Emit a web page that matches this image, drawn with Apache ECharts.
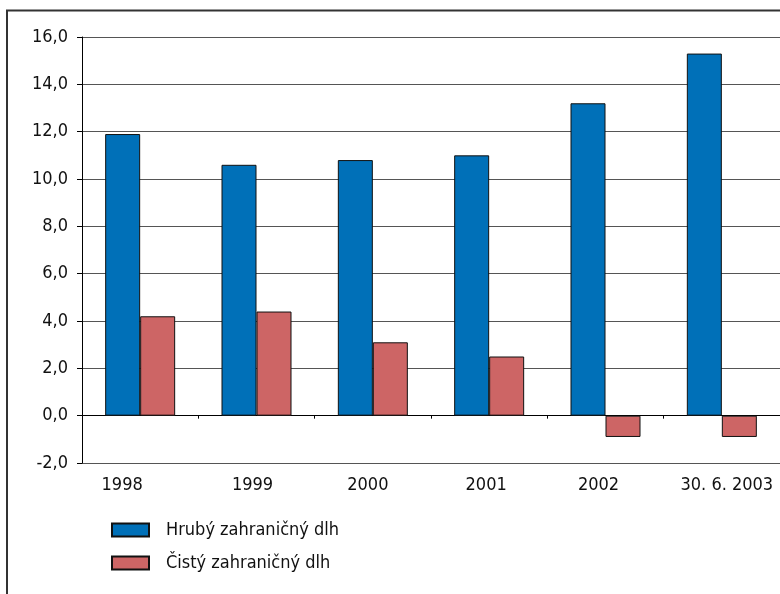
<!DOCTYPE html>
<html>
<head>
<meta charset="utf-8">
<script src="https://cdn.jsdelivr.net/npm/echarts@6/dist/echarts.min.js"></script>
<style>
  html, body { margin: 0; padding: 0; background: #ffffff; }
  #chart { width: 780px; height: 594px; }
</style>
</head>
<body>
<div id="chart"></div>
<script>
// Zahraničný dlh (mld. USD)
const categories = ['1998', '1999', '2000', '2001', '2002', '30. 6. 2003'];
const grossDebt = [11.9, 10.6, 10.8, 11.0, 13.2, 15.3];
const netDebt = [4.2, 4.4, 3.1, 2.5, -0.9, -0.9];
const seriesNames = ['Hrubý zahraničný dlh', 'Čistý zahraničný dlh'];
const yMin = -2, yMax = 16, yStep = 2;

// small horizontal nudges of the category labels (px, negative = left)
const labelShift = [-18, -4, -5, -3, -7, 5];

const FONT = "'DejaVu Sans Condensed', 'Liberation Sans Narrow', 'Liberation Sans', sans-serif";
const FS = 18;

const chart = echarts.init(document.getElementById('chart'), null, { renderer: 'canvas' });

const richStyles = {};
labelShift.forEach((s, i) => {
  richStyles['c' + i] = {
    fontFamily: FONT, fontSize: FS, color: '#111',
    padding: s < 0 ? [0, -2 * s, 0, 0] : [0, 0, 0, 2 * s]
  };
});

chart.setOption({
  animation: false,
  backgroundColor: '#ffffff',
  textStyle: { fontFamily: FONT },
  graphic: [{
    type: 'rect',
    shape: { x: 7, y: 10.5, width: 820, height: 640 },
    style: { fill: 'none', stroke: '#333', lineWidth: 2 },
    silent: true, z: -1
  }],
  grid: { left: 82, top: 37, right: -1, bottom: 131, containLabel: false },
  legend: {
    orient: 'vertical',
    left: 106,
    top: 516,
    itemWidth: 37,
    itemHeight: 13,
    itemGap: 15,
    icon: 'rect',
    data: seriesNames,
    textStyle: { fontFamily: FONT, fontSize: FS, color: '#111', padding: [0, 0, 0, 12] }
  },
  xAxis: [{
    type: 'category',
    data: categories,
    position: 'bottom',
    axisLine: { show: false, onZero: false },
    axisTick: { show: false },
    splitLine: { show: false },
    axisLabel: {
      interval: 0,
      margin: 13,
      formatter: (v, i) => '{c' + i + '|' + v + '}',
      rich: richStyles
    }
  }, {
    // zero line with category separators
    type: 'category',
    data: categories,
    position: 'top',
    axisLine: { show: true, onZero: true, lineStyle: { color: '#000', width: 1 } },
    axisTick: { show: true, inside: true, length: 3, lineStyle: { color: '#000' } },
    axisLabel: { show: false },
    splitLine: { show: false }
  }],
  yAxis: {
    type: 'value',
    min: yMin,
    max: yMax,
    interval: yStep,
    axisLine: { show: true, lineStyle: { color: '#000', width: 1 } },
    axisTick: { show: true, length: 5, lineStyle: { color: '#000' } },
    splitLine: { show: true, lineStyle: { color: '#555', width: 1 } },
    axisLabel: {
      margin: 14,
      fontFamily: FONT, fontSize: FS, color: '#111',
      formatter: v => v.toFixed(1).replace('.', ',')
    }
  },
  series: [{
    name: seriesNames[0],
    type: 'bar',
    xAxisIndex: 0,
    data: grossDebt,
    barWidth: 35,
    barGap: '0%',
    itemStyle: { color: '#0070B8', borderColor: '#111', borderWidth: 1 }
  }, {
    name: seriesNames[1],
    type: 'bar',
    xAxisIndex: 0,
    data: netDebt,
    barWidth: 35,
    barGap: '0%',
    itemStyle: { color: '#CD6565', borderColor: '#111', borderWidth: 1 }
  }]
});
</script>
</body>
</html>
